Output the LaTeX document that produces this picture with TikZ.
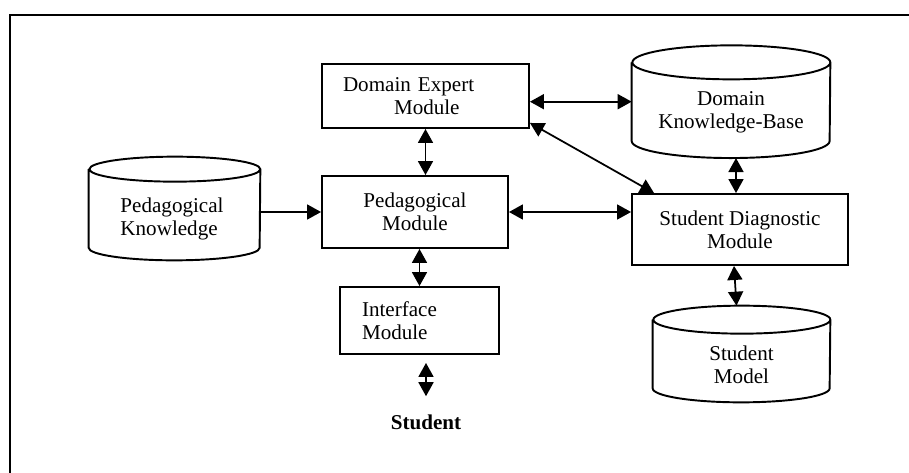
\documentclass[tikz,border=0pt]{standalone}
\usepackage{fontspec}
\setmainfont{Liberation Serif}
\usetikzlibrary{arrows.meta,positioning,shapes.geometric}

% cylinder outline round a named node: #1 node, #2 x radius, #3 y radius
\newcommand\dbcyl[3]{%
  \draw[line width=1.1pt] ([yshift=-#3]#1.north west) -- ([yshift=#3]#1.south west)
    arc[start angle=180, end angle=360, x radius=#2, y radius=#3]
    -- ([yshift=-#3]#1.north east)
    arc[start angle=0, end angle=360, x radius=#2, y radius=#3];}

\begin{document}
\begin{tikzpicture}[x=0.02cm,y=-0.02cm,
    >={Triangle[length=0.28cm,width=0.3cm]},
    every node/.style={font=\fontsize{12pt}{13.1pt}\selectfont}]
  \tikzstyle{modbox}=[rectangle,draw,line width=1.1pt,align=center,inner sep=0pt]
  \tikzstyle{dbase}=[rectangle,inner sep=0pt]
  \tikzstyle{dbtext}=[align=center,inner sep=0pt]
  \tikzstyle{link}=[line width=1pt]

  \useasboundingbox (0,0) rectangle (909,473);
  % frame
  \draw[line width=1.1pt] (10,480) -- (10,15) -- (915,15);

  % modules
  \node[modbox, minimum width=4.14cm, minimum height=1.28cm, text width=3.3cm, align=left] (de) at (425.5,96) {Domain Expert\\\hspace*{1.02cm}Module};
  \node[modbox, minimum width=3.72cm, minimum height=1.44cm] (ped)  at (415,212)   {Pedagogical\\Module};
  \node[modbox, minimum width=3.18cm, minimum height=1.34cm, text width=2.3cm, align=left] (intf) at (419.5,320.5) {Interface\\Module};
  \node[modbox, minimum width=4.32cm, minimum height=1.42cm] (sdm)  at (740,229.5) {Student Diagnostic\\Module};

  % knowledge bases
  \node[dbase, minimum width=3.96cm, minimum height=2.24cm] (dkb) at (731,101.7) {};
  \node[dbase, minimum width=3.42cm, minimum height=2.06cm] (pk)  at (174.5,208.5) {};
  \node[dbase, minimum width=3.54cm, minimum height=1.92cm] (sm)  at (741.5,354) {};
  \dbcyl{dkb}{1.98cm}{0.34cm}
  \dbcyl{pk}{1.71cm}{0.25cm}
  \dbcyl{sm}{1.77cm}{0.28cm}
  \node[dbtext] (dkbt) at (731,112)   {Domain\\Knowledge-Base};
  \node[dbtext, align=left] (pkt) at (172,219) {Pedagogical\\Knowledge};
  \node[dbtext] (smt)  at (741.5,364.5) {Student\\Model};

  \node[font=\fontsize{12pt}{13.1pt}\selectfont\bfseries, inner sep=0pt] (student) at (426,422) {Student};

  % links
  \draw[link,<->] (dkb.west -| de.east) -- (dkb.west);
  \draw[link,<->] (de.south) -- (de.south |- ped.north);
  \draw[link,<->] ([yshift=0.12cm]de.south east) -- ([xshift=0.46cm]sdm.north west);
  \draw[link,->]  (pk.east |- ped.west) -- (ped.west);
  \draw[link,<->] (ped.east) -- (ped.east -| sdm.west);
  \draw[link,<->] ([xshift=0.1cm]dkb.south) -- ([xshift=0.1cm]dkb.south |- sdm.north);
  \draw[link,<->] (intf.north) -- (intf.north |- ped.south);
  \draw[link,<->] ([xshift=-0.12cm]sdm.south) -- ([xshift=-0.1cm]sm.north);
  \draw[link,<->,shorten <=0.16cm,shorten >=0.36cm] (intf.south -| student.north) -- (student.north);
\end{tikzpicture}
\end{document}
